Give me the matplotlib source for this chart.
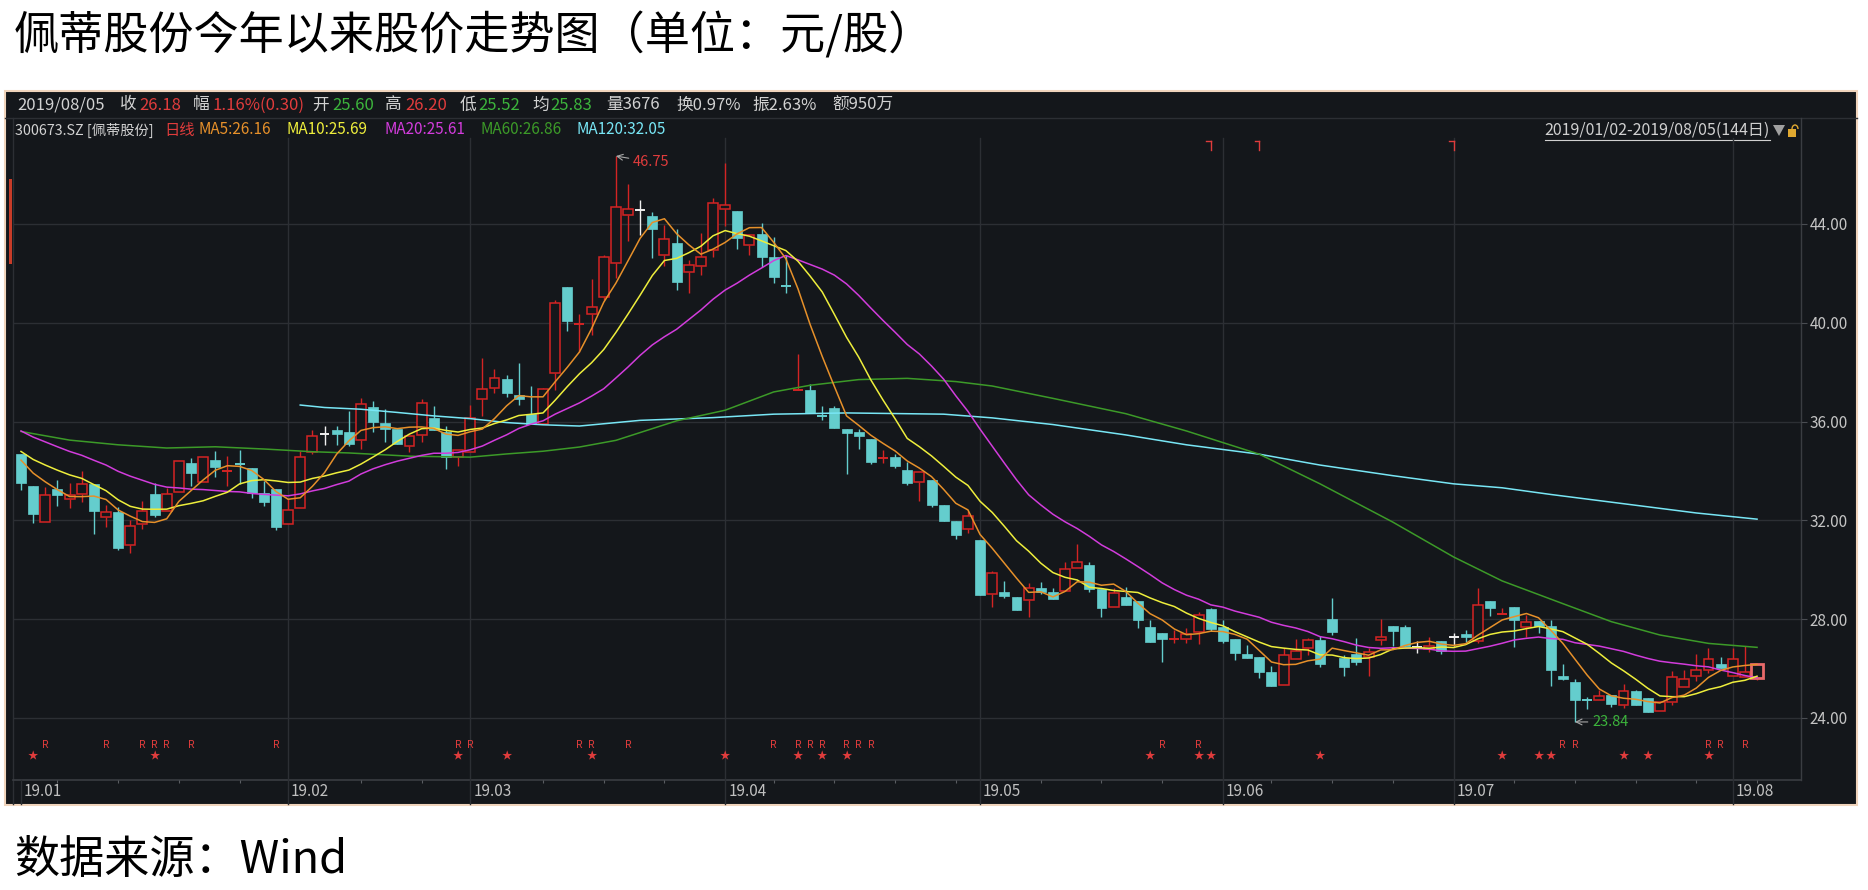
import numpy as np
import pandas as pd
import matplotlib
matplotlib.use("Agg")
from matplotlib import pyplot as plt
from matplotlib import transforms
from matplotlib.patches import Rectangle, Polygon, Arc

plt.rcParams['font.family'] = ['Noto Sans CJK SC', 'DejaVu Sans']

W, H = 1868, 890

# daily OHLC, 2019/01/02 - 2019/08/05 (144 trading days)
opens = [34.68, 33.40, 31.95, 33.26, 32.85, 33.05, 33.48, 32.13, 32.35, 31.01,
         31.87, 33.05, 32.38, 33.13, 34.34, 33.54, 34.44, 33.98, 34.30, 34.11,
         33.10, 33.29, 31.84, 32.51, 34.78, 35.51, 35.67, 35.58, 35.27, 36.60,
         35.96, 35.70, 35.03, 35.46, 36.16, 35.59, 34.56, 34.78, 36.91, 37.35,
         37.74, 37.06, 36.30, 35.92, 37.95, 41.46, 39.95, 40.34, 41.05, 42.41,
         44.35, 44.57, 44.32, 42.73, 43.22, 42.04, 42.30, 42.95, 44.59, 44.51,
         43.15, 43.59, 42.68, 41.48, 37.28, 37.27, 36.22, 36.57, 35.68, 35.58,
         35.30, 34.53, 34.58, 34.05, 33.56, 33.64, 32.63, 31.97, 31.66, 31.19,
         29.01, 29.10, 28.91, 28.78, 29.25, 29.10, 29.14, 30.09, 30.21, 29.21,
         28.48, 28.91, 28.72, 27.68, 27.44, 27.20, 27.21, 27.50, 28.41, 27.70,
         27.18, 26.61, 26.48, 25.85, 25.35, 26.39, 26.84, 27.16, 28.00, 26.44,
         26.61, 26.45, 27.17, 27.71, 27.67, 26.88, 26.80, 27.10, 27.27, 27.39,
         27.10, 28.73, 28.22, 28.49, 27.67, 27.92, 27.73, 25.69, 25.47, 24.72,
         24.73, 24.93, 24.53, 25.09, 24.82, 24.27, 24.64, 25.25, 25.71, 25.93,
         26.20, 25.69, 25.66, 25.60]
highs = [34.68, 33.40, 33.34, 33.64, 33.53, 34.01, 33.48, 32.64, 32.56, 32.00,
         32.78, 33.53, 33.32, 34.42, 34.52, 34.55, 34.79, 34.62, 34.86, 34.11,
         33.61, 33.29, 32.87, 34.79, 35.66, 35.82, 35.82, 36.44, 36.94, 36.84,
         36.49, 35.70, 35.40, 36.93, 36.63, 35.81, 34.83, 36.68, 38.56, 38.14,
         37.89, 38.39, 37.46, 37.36, 40.94, 41.46, 40.35, 41.77, 42.73, 46.75,
         45.62, 44.97, 44.50, 43.96, 43.78, 42.54, 43.62, 45.04, 46.46, 44.51,
         43.57, 44.03, 43.46, 42.73, 38.73, 37.54, 36.65, 36.65, 35.68, 35.68,
         35.30, 34.85, 34.68, 34.35, 33.96, 33.64, 32.63, 31.97, 32.40, 31.19,
         29.96, 29.53, 28.91, 29.45, 29.50, 29.27, 30.33, 31.03, 30.33, 29.21,
         29.25, 29.29, 28.72, 27.95, 27.44, 27.55, 27.63, 28.29, 28.46, 27.97,
         27.18, 26.95, 26.48, 26.10, 26.82, 27.18, 27.25, 27.32, 28.86, 26.54,
         27.22, 26.82, 28.00, 27.71, 27.77, 27.13, 27.27, 27.10, 27.43, 27.56,
         29.27, 28.73, 28.45, 28.49, 28.18, 27.92, 27.97, 26.18, 25.59, 24.84,
         25.14, 24.93, 25.39, 25.14, 24.82, 24.63, 25.90, 25.93, 26.61, 26.82,
         26.48, 26.82, 26.91, 26.20]
lows = [33.23, 31.89, 31.95, 32.59, 32.51, 32.74, 31.46, 31.73, 30.79, 30.68,
        31.66, 32.13, 32.38, 33.13, 33.40, 33.54, 33.77, 33.41, 33.48, 32.91,
        32.59, 31.60, 31.84, 32.51, 34.70, 35.05, 35.05, 35.00, 34.91, 35.59,
        35.16, 35.10, 34.78, 35.16, 35.65, 34.10, 34.22, 34.78, 36.23, 37.14,
        36.98, 36.67, 35.89, 35.92, 37.27, 39.68, 38.82, 39.50, 40.92, 41.80,
        43.32, 43.55, 42.61, 42.30, 41.32, 41.22, 41.95, 42.68, 43.90, 43.00,
        42.76, 42.24, 41.62, 41.22, 37.28, 36.35, 36.08, 35.76, 33.88, 34.87,
        34.28, 34.31, 34.11, 33.45, 32.78, 32.54, 31.97, 31.26, 31.49, 28.98,
        28.51, 28.85, 28.38, 28.08, 29.02, 28.81, 29.14, 30.09, 29.10, 28.08,
        28.48, 28.56, 27.64, 27.09, 26.26, 27.02, 27.05, 26.98, 27.54, 27.02,
        26.34, 26.44, 25.62, 25.28, 25.35, 26.39, 26.56, 26.07, 27.36, 25.69,
        26.14, 25.70, 26.95, 26.91, 26.93, 26.64, 26.68, 26.59, 26.91, 27.09,
        27.02, 28.14, 28.22, 26.88, 27.29, 27.43, 25.31, 25.52, 23.84, 24.37,
        24.73, 24.46, 24.41, 24.52, 24.24, 24.27, 24.54, 25.25, 25.50, 25.82,
        26.03, 25.69, 25.66, 25.52]
closes = [33.50, 32.27, 33.03, 33.02, 33.01, 33.48, 32.38, 32.34, 30.90, 31.76,
          32.38, 32.21, 33.07, 34.42, 33.93, 34.55, 34.17, 34.00, 34.28, 33.10,
          32.74, 31.73, 32.43, 34.58, 35.41, 35.51, 35.48, 35.10, 36.71, 35.97,
          35.69, 35.10, 35.40, 36.76, 35.65, 34.56, 34.83, 36.14, 37.31, 37.77,
          37.14, 36.90, 35.89, 37.31, 40.82, 40.07, 40.00, 40.62, 42.65, 44.68,
          44.59, 44.57, 43.81, 43.41, 41.66, 42.35, 42.65, 44.84, 44.76, 43.43,
          43.57, 42.68, 41.84, 41.46, 37.32, 36.35, 36.20, 35.76, 35.52, 35.41,
          34.35, 34.56, 34.21, 33.50, 33.96, 32.63, 31.97, 31.40, 32.16, 28.98,
          29.85, 28.94, 28.38, 29.28, 29.10, 28.81, 30.05, 30.33, 29.21, 28.47,
          29.05, 28.56, 27.95, 27.09, 27.19, 27.23, 27.40, 28.16, 27.59, 27.12,
          26.64, 26.44, 25.86, 25.28, 26.57, 26.71, 27.16, 26.20, 27.50, 26.07,
          26.26, 26.68, 27.27, 27.54, 26.93, 26.88, 26.91, 26.71, 27.27, 27.27,
          28.59, 28.46, 28.25, 27.95, 27.90, 27.73, 25.96, 25.58, 24.73, 24.70,
          24.91, 24.57, 25.09, 24.52, 24.24, 24.63, 25.66, 25.58, 25.96, 26.39,
          26.03, 26.37, 25.88, 26.18]

# closes of late Dec 2018, only used to start MA5/MA10/MA20
prior_closes = [37.2, 37.0, 36.9, 36.8, 36.6, 36.4, 36.2, 36.0, 35.7, 35.7,
                35.5, 35.3, 35.1, 34.9, 34.9, 34.9, 34.8, 34.6, 34.4]

# MA60 / MA120
ma60_idx = [0, 4, 8, 12, 16, 20, 24, 27, 32, 37, 40, 43, 46, 49, 54, 58, 62, 65,
            69, 73, 77, 80, 85, 91, 96, 102, 107, 113, 118, 122, 127, 131, 135,
            139, 143]
ma60_val = [35.60, 35.25, 35.06, 34.93, 34.98, 34.89, 34.78, 34.73, 34.60, 34.56,
            34.69, 34.80, 34.97, 35.24, 36.03, 36.46, 37.20, 37.47, 37.70, 37.75,
            37.62, 37.44, 36.94, 36.32, 35.62, 34.68, 33.48, 31.93, 30.52, 29.55,
            28.63, 27.90, 27.36, 27.02, 26.86]
ma120_idx = [23, 25, 28, 31, 34, 37, 40, 43, 46, 51, 57, 62, 68, 76, 80, 85, 91,
             96, 102, 107, 113, 118, 122, 126, 130, 134, 138, 143]
ma120_val = [36.67, 36.57, 36.50, 36.37, 36.23, 36.12, 35.96, 35.87, 35.82, 36.05,
             36.16, 36.30, 36.35, 36.30, 36.15, 35.88, 35.46, 35.06, 34.68, 34.24,
             33.81, 33.48, 33.32, 33.05, 32.80, 32.55, 32.30, 32.05]

month_idx = [0, 22, 37, 58, 79, 99, 118, 141]
month_labels = ['19.01', '19.02', '19.03', '19.04', '19.05', '19.06', '19.07', '19.08']
week_idx = [3, 8, 13, 18, 28, 33, 43, 48, 53, 62, 67, 72, 77, 84, 89, 94, 103, 108,
            113, 123, 128, 133, 138, 143]
y_ticks = [24, 28, 32, 36, 40, 44]

r_idx = [2, 7, 10, 11, 12, 14, 21, 36, 37, 46, 47, 50, 62, 64, 65, 66, 68, 69, 70,
         94, 97, 127, 128, 139, 140, 142]
star_idx = [1, 11, 36, 40, 47, 58, 64, 66, 68, 93, 97, 98, 107, 122, 125, 126, 132,
            134, 139]
flag_idx = [98, 102, 118]

title = '佩蒂股份今年以来股价走势图（单位：元/股）'
source = '数据来源：Wind'

BG = '#14171b'
GRID = '#2c2f34'
LG = '#d2d2d2'
RED = '#e03c3c'
UP = '#d42424'
DOWN = '#64cdcd'
GRN = '#3cb43c'
C_MA5 = '#e6902a'
C_MA10 = '#eeee3c'
C_MA20 = '#d23cdc'
C_MA60 = '#3c9a28'
C_MA120 = '#78e6f5'

row1 = [(17, '2019/08/05', LG), (120, '收', LG), (139, '26.18', RED),
        (193, '幅', LG), (213, '1.16%(0.30)', RED), (312, '开', LG),
        (332, '25.60', GRN), (385, '高', LG), (405, '26.20', RED),
        (460, '低', LG), (478, '25.52', GRN), (532, '均', LG),
        (550, '25.83', GRN), (606, '量3676', LG), (676, '换0.97%', LG),
        (752, '振2.63%', LG), (832, '额950万', LG)]
row2 = [(15, '300673.SZ [佩蒂股份]', LG, 10.3), (164, '日线', RED, 11),
        (198, 'MA5:26.16', C_MA5, 11), (287, 'MA10:25.69', C_MA10, 11),
        (384, 'MA20:25.61', C_MA20, 11), (480, 'MA60:26.86', C_MA60, 11),
        (577, 'MA120:32.05', C_MA120, 11)]

# moving averages
s = pd.Series(prior_closes + closes)
n = len(closes)
ma5 = s.rolling(5).mean().values[-n:]
ma10 = s.rolling(10).mean().values[-n:]
ma20 = s.rolling(20).mean().values[-n:]

fig = plt.figure(figsize=(W / 100, H / 100), dpi=100)
fig.patch.set_facecolor('white')

# background layer in pixel coords
bg = fig.add_axes([0, 0, 1, 1])
bg.set_xlim(0, W)
bg.set_ylim(H, 0)
bg.axis('off')
bg.add_patch(Rectangle((5, 91), 1852, 714, facecolor=BG, edgecolor='#f0d4bc', lw=1.5))
bg.plot([5, 1857], [118, 118], color=GRID, lw=1)
bg.plot([13, 13], [118, 804], color=GRID, lw=1)
bg.plot([1801, 1801], [118, 780], color='#3a3d42', lw=1)
bg.plot([13, 1801], [780, 780], color='#3a3d42', lw=1.2)
bg.add_patch(Rectangle((9, 179), 3, 85, facecolor='#c83c28', edgecolor='none'))

bg.text(14, 36, title, fontsize=32.5, color='black', ha='left', va='center')
bg.text(14, 860, source, fontsize=32.5, color='black', ha='left', va='center')

for x, t, c in row1:
    bg.text(x, 105, t, fontsize=12, color=c, ha='left', va='center')
for x, t, c, fs in row2:
    bg.text(x, 130, t, fontsize=fs, color=c, ha='left', va='center')

rng = bg.text(1770, 130, '2019/01/02-2019/08/05(144日)', fontsize=11.5,
              color='#d0d0d0', ha='right', va='center')
bg.add_patch(Polygon([[1773, 125], [1785, 125], [1779, 136]], closed=True,
                     facecolor='#a0a0a0', edgecolor='none'))
bg.add_patch(Rectangle((1788, 129), 8, 8, facecolor='#e0a830', edgecolor='none'))
bg.add_patch(Arc((1795, 129), 6, 8, theta1=180, theta2=360, color='#e0a830', lw=1))

# main chart
PL, PR, PT, PB = 13, 1801, 118, 780
ax = fig.add_axes([PL / W, 1 - PB / H, (PR - PL) / W, (PB - PT) / H])
ax.patch.set_alpha(0)
x0, x1 = -0.66, 146.62
y0, y1 = 21.49, 48.29
ax.set_xlim(x0, x1)
ax.set_ylim(y0, y1)
for sp in ax.spines.values():
    sp.set_visible(False)

ax.hlines(y_ticks, x0, x1, color=GRID, lw=1, zorder=0.5)
for i in month_idx[1:]:
    ax.axvline(i, ymin=-24 / 662, ymax=(780 - 138) / 662, color=GRID, lw=1,
               clip_on=False, zorder=0.5)
ax.axvline(month_idx[0], ymin=-24 / 662, ymax=0, color=GRID, lw=1, clip_on=False)

ax.yaxis.tick_right()
ax.set_yticks(y_ticks)
ax.set_yticklabels(['%.2f' % v for v in y_ticks])
ax.tick_params(axis='y', colors='#c4c4c4', labelsize=11, length=4, width=0.8, pad=2)
ax.tick_params(axis='y', color='#4a4d52')
ax.set_xticks([])
ax.set_xticks(week_idx, minor=True)
ax.tick_params(axis='x', which='minor', length=2.5, width=0.8, color='#5a5d62',
               direction='out')

trans = transforms.blended_transform_factory(ax.transData, ax.transAxes)
lab_tr = transforms.offset_copy(trans, fig=fig, x=3, y=0, units='dots')
for i, lab in zip(month_idx, month_labels):
    ax.text(i, -12 / 662, lab, transform=lab_tr, fontsize=11, color='#c0c0c0',
            ha='left', va='center')

# candles
bw = 0.82
for i in range(n):
    o, h, l, c = opens[i], highs[i], lows[i], closes[i]
    if abs(c - o) < 0.05:
        col = '#f0f0f0' if c == o else (UP if c > o else DOWN)
        ax.vlines(i, l, h, color=col, lw=1, zorder=2)
        ax.hlines(o, i - bw / 2, i + bw / 2, color=col, lw=1.4, zorder=2)
    elif c > o:
        ax.vlines(i, c, h, color=UP, lw=1, zorder=2)
        ax.vlines(i, l, o, color=UP, lw=1, zorder=2)
        if i == n - 1:
            ax.add_patch(Rectangle((i - 0.48, o), 0.96, c - o, facecolor=BG,
                                   edgecolor='#e86a6a', lw=2, zorder=2.5))
        else:
            ax.add_patch(Rectangle((i - bw / 2, o), bw, c - o, facecolor=BG,
                                   edgecolor=UP, lw=1.1, zorder=2))
    else:
        ax.vlines(i, l, h, color=DOWN, lw=1, zorder=2)
        ax.add_patch(Rectangle((i - bw / 2, c), bw, o - c, facecolor=DOWN,
                               edgecolor=DOWN, lw=0.5, zorder=2))

idx = np.arange(n)
ax.plot(ma120_idx, ma120_val, color=C_MA120, lw=1.1, zorder=3)
ax.plot(ma60_idx, ma60_val, color=C_MA60, lw=1.1, zorder=3)
ax.plot(idx, ma20, color=C_MA20, lw=1.1, zorder=3)
ax.plot(idx, ma10, color=C_MA10, lw=1.1, zorder=3)
ax.plot(idx, ma5, color=C_MA5, lw=1.1, zorder=3)

# high / low notes
ax.annotate('46.75', xy=(49, max(highs)), xytext=(17, -6), textcoords='offset pixels',
            fontsize=10.5, color=RED, ha='left', va='center',
            arrowprops=dict(arrowstyle='->', color='#a8a8a8', lw=0.8, shrinkA=1, shrinkB=0))
ax.annotate('23.84', xy=(128, min(lows)), xytext=(17, 0), textcoords='offset pixels',
            fontsize=10.5, color=GRN, ha='left', va='center',
            arrowprops=dict(arrowstyle='->', color='#a8a8a8', lw=0.8, shrinkA=1, shrinkB=0))

# event marks
for i in r_idx:
    ax.text(i, (780 - 745.5) / 662, 'R', transform=trans, fontsize=7.5, color=RED,
            ha='center', va='center')
for i in star_idx:
    ax.text(i, (780 - 756.5) / 662, '★', transform=trans, fontsize=7.5, color=RED,
            ha='center', va='center')
for i in flag_idx:
    ax.plot([i - 0.35, i], [0.965, 0.965], color=RED, lw=1, transform=trans, zorder=3)
    ax.plot([i, i], [0.965, 0.952], color=RED, lw=1, transform=trans, zorder=3)

# underline of the date range
fig.canvas.draw()
bb = rng.get_window_extent()
bg.plot([bb.x0, bb.x1], [H - bb.y0 + 1, H - bb.y0 + 1], color='#d0d0d0', lw=0.8)

fig.savefig('out.png', dpi=100, facecolor='white')
